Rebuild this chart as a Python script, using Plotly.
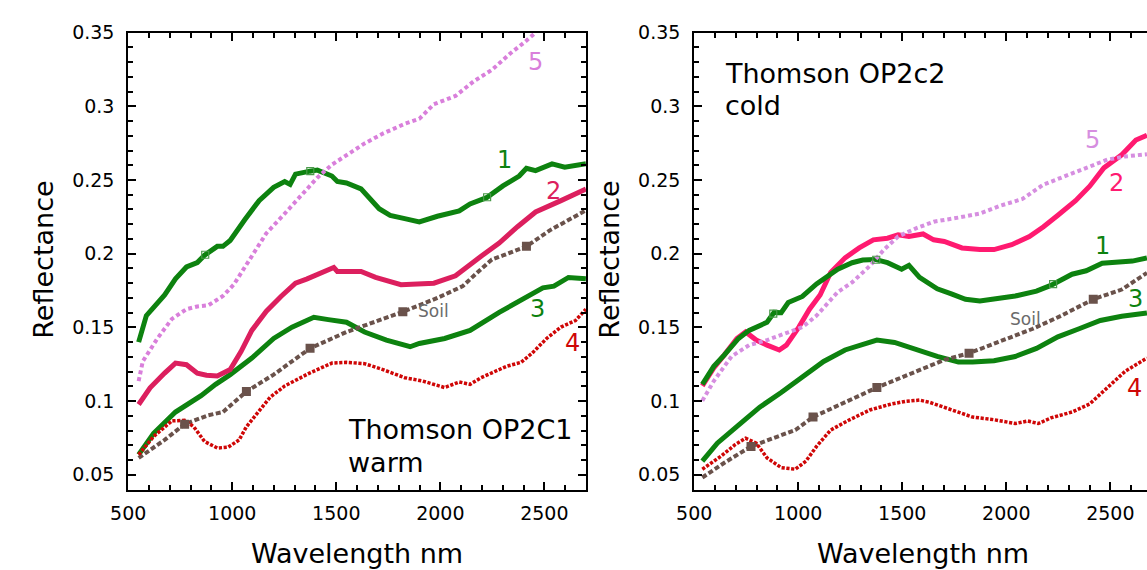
import plotly.graph_objects as go
import numpy as np

# ---------------- Left panel: Thomson OP2C1 warm ----------------
L1_x = [550, 587, 675, 727, 780, 832, 867, 928, 955, 990, 1060, 1129, 1199, 1252, 1278, 1304, 1374, 1409, 1479, 1505, 1549, 1619, 1706, 1759, 1829, 1899, 1986, 2091, 2143, 2222, 2301, 2379, 2414, 2458, 2537, 2598, 2700]
L1_y = [0.140, 0.158, 0.172, 0.183, 0.191, 0.194, 0.199, 0.205, 0.205, 0.209, 0.223, 0.236, 0.245, 0.249, 0.247, 0.254, 0.256, 0.2567, 0.2527, 0.249, 0.248, 0.244, 0.2305, 0.226, 0.2238, 0.2216, 0.2254, 0.229, 0.2338, 0.238, 0.246, 0.2527, 0.258, 0.2564, 0.2609, 0.2587, 0.261]

L2_x = [550, 605, 675, 727, 780, 832, 876, 928, 990, 1042, 1094, 1164, 1234, 1304, 1357, 1427, 1488, 1505, 1619, 1689, 1811, 1969, 2073, 2196, 2283, 2371, 2458, 2580, 2700]
L2_y = [0.0977, 0.109, 0.119, 0.1258, 0.1247, 0.119, 0.1176, 0.117, 0.1214, 0.1336, 0.148, 0.161, 0.171, 0.180, 0.1828, 0.1873, 0.1906, 0.188, 0.188, 0.184, 0.179, 0.180, 0.185, 0.1983, 0.2072, 0.2183, 0.2283, 0.236, 0.2438]

L3_x = [550, 622, 727, 850, 920, 990, 1094, 1199, 1287, 1392, 1462, 1549, 1636, 1741, 1855, 1899, 2021, 2143, 2283, 2423, 2493, 2546, 2616, 2700]
L3_y = [0.0637, 0.0782, 0.0926, 0.1037, 0.1114, 0.118, 0.1292, 0.1425, 0.1502, 0.1569, 0.1553, 0.1535, 0.1469, 0.1414, 0.1369, 0.1391, 0.1425, 0.148, 0.1602, 0.1713, 0.1768, 0.178, 0.1839, 0.183]

L4_x = [550, 622, 710, 771, 815, 867, 928, 981, 1033, 1068, 1112, 1182, 1252, 1374, 1479, 1549, 1636, 1724, 1829, 1916, 2021, 2091, 2143, 2196, 2248, 2318, 2388, 2441, 2511, 2580, 2650, 2700]
L4_y = [0.0637, 0.076, 0.0866, 0.087, 0.0826, 0.0726, 0.0682, 0.0688, 0.0737, 0.0826, 0.0904, 0.1026, 0.1103, 0.1192, 0.1258, 0.1263, 0.1254, 0.1214, 0.1159, 0.1136, 0.1092, 0.113, 0.1114, 0.1159, 0.1192, 0.1236, 0.1263, 0.1325, 0.1425, 0.1502, 0.1547, 0.1624]

L5_x = [550, 570, 640, 710, 780, 832, 885, 955, 1007, 1024, 1077, 1164, 1252, 1339, 1409, 1479, 1549, 1636, 1724, 1829, 1899, 1969, 2073, 2161, 2248, 2336, 2406, 2458]
L5_y = [0.1136, 0.127, 0.1425, 0.1558, 0.1624, 0.1642, 0.165, 0.1713, 0.179, 0.1828, 0.194, 0.2139, 0.2272, 0.2405, 0.2516, 0.2604, 0.2671, 0.2748, 0.2815, 0.2881, 0.2915, 0.3014, 0.307, 0.317, 0.3247, 0.3358, 0.3436, 0.35]

LS_x = [550, 675, 771, 885, 955, 1068, 1199, 1374, 1549, 1724, 1820, 1986, 2108, 2178, 2248, 2301, 2414, 2528, 2700]
LS_y = [0.0615, 0.0737, 0.0844, 0.0904, 0.0926, 0.1065, 0.118, 0.1358, 0.1469, 0.1558, 0.1606, 0.170, 0.178, 0.1873, 0.1961, 0.1988, 0.205, 0.216, 0.2294]

L1_marks = [870, 1375, 2225]
LS_marks = [771, 1068, 1374, 1820, 2414]

# ---------------- Right panel: Thomson OP2c2 cold ----------------
R1_x = [539, 594, 645, 713, 764, 850, 884, 918, 952, 1020, 1088, 1190, 1259, 1310, 1370, 1429, 1497, 1532, 1583, 1668, 1736, 1804, 1873, 1958, 2043, 2145, 2214, 2316, 2384, 2461, 2538, 2606, 2676]
R1_y = [0.1114, 0.1236, 0.1314, 0.1425, 0.148, 0.1535, 0.1602, 0.160, 0.1669, 0.171, 0.1795, 0.1895, 0.1939, 0.1957, 0.1961, 0.1939, 0.1895, 0.1921, 0.1839, 0.1762, 0.1728, 0.1691, 0.168, 0.1695, 0.1713, 0.1746, 0.1785, 0.1861, 0.1884, 0.1935, 0.1939, 0.195, 0.1972]

R2_x = [539, 594, 645, 705, 747, 798, 850, 909, 943, 1003, 1054, 1105, 1156, 1225, 1293, 1361, 1429, 1480, 1532, 1600, 1651, 1702, 1787, 1873, 1941, 2026, 2111, 2179, 2248, 2333, 2401, 2469, 2555, 2623, 2676]
R2_y = [0.1103, 0.1225, 0.1314, 0.1425, 0.1469, 0.1414, 0.138, 0.1347, 0.138, 0.1502, 0.1624, 0.172, 0.1873, 0.1972, 0.2039, 0.2094, 0.2105, 0.2128, 0.2117, 0.2134, 0.2094, 0.2083, 0.2039, 0.2028, 0.2028, 0.2061, 0.2117, 0.2183, 0.2261, 0.236, 0.2458, 0.2582, 0.2671, 0.2771, 0.2804]

R3_x = [539, 611, 713, 815, 918, 1020, 1122, 1225, 1327, 1378, 1463, 1566, 1668, 1770, 1838, 1941, 2043, 2145, 2248, 2350, 2452, 2555, 2676]
R3_y = [0.0593, 0.0715, 0.0837, 0.0959, 0.1059, 0.1159, 0.1269, 0.1347, 0.1391, 0.1414, 0.1398, 0.1347, 0.1303, 0.1265, 0.1265, 0.1274, 0.1303, 0.1358, 0.1436, 0.1491, 0.1547, 0.1576, 0.1598]

R4_x = [539, 628, 696, 747, 798, 850, 918, 986, 1037, 1088, 1156, 1242, 1344, 1446, 1514, 1583, 1634, 1736, 1838, 1941, 2043, 2103, 2154, 2214, 2316, 2401, 2486, 2572, 2676]
R4_y = [0.0538, 0.0626, 0.0704, 0.0748, 0.0715, 0.0615, 0.0549, 0.0538, 0.0593, 0.0693, 0.0804, 0.087, 0.094, 0.098, 0.0998, 0.1007, 0.0991, 0.094, 0.0892, 0.0874, 0.0848, 0.0865, 0.0848, 0.0886, 0.0926, 0.0981, 0.1092, 0.1203, 0.1292]

R5_x = [539, 594, 679, 764, 850, 952, 1020, 1088, 1156, 1190, 1259, 1344, 1412, 1480, 1566, 1651, 1770, 1873, 1975, 2077, 2179, 2282, 2384, 2486, 2572, 2676]
R5_y = [0.1003, 0.1136, 0.1303, 0.138, 0.1414, 0.1469, 0.1502, 0.158, 0.1691, 0.174, 0.1806, 0.1917, 0.2028, 0.2117, 0.2172, 0.2217, 0.2245, 0.2272, 0.2327, 0.2371, 0.2469, 0.2527, 0.2582, 0.2638, 0.266, 0.2675]

RS_x = [539, 645, 773, 884, 986, 1071, 1190, 1378, 1532, 1702, 1821, 1958, 2128, 2265, 2418, 2555, 2676]
RS_y = [0.0482, 0.0582, 0.0693, 0.0748, 0.0804, 0.0892, 0.0969, 0.1092, 0.1181, 0.128, 0.1325, 0.1402, 0.1491, 0.158, 0.1691, 0.1757, 0.187]

R1_marks = [880, 1375, 2225]
RS_marks = [773, 1071, 1378, 1821, 2418]

# Curve label text / colors
labels = ["1", "2", "3", "4", "5", "Soil"]
GREEN = "#0d820f"
PINK_L = "#dc1f5e"
PINK_R = "#ff1a70"
RED = "#cf0606"
PURPLE_L = "#d97fdb"
PURPLE_R = "#d68ee0"
BROWN = "#6a524b"
GRAY = "#6b6b6b"

FONT = "DejaVu Sans"

fig = go.Figure()

def add_panel(xa, ya, s1, s2, s3, s4, s5, ss, m1, ms, pink, purple):
    fig.add_trace(go.Scatter(x=s3[0], y=s3[1], mode="lines", line=dict(color=GREEN, width=5), xaxis=xa, yaxis=ya, showlegend=False))
    fig.add_trace(go.Scatter(x=ss[0], y=ss[1], mode="lines", line=dict(color=BROWN, width=4, dash="5px,2.5px"), xaxis=xa, yaxis=ya, showlegend=False))
    fig.add_trace(go.Scatter(x=s4[0], y=s4[1], mode="lines", line=dict(color=RED, width=3.5, dash="3.2px,1.6px"), xaxis=xa, yaxis=ya, showlegend=False))
    fig.add_trace(go.Scatter(x=s2[0], y=s2[1], mode="lines", line=dict(color=pink, width=5), xaxis=xa, yaxis=ya, showlegend=False))
    fig.add_trace(go.Scatter(x=s1[0], y=s1[1], mode="lines", line=dict(color=GREEN, width=5), xaxis=xa, yaxis=ya, showlegend=False))
    fig.add_trace(go.Scatter(x=s5[0], y=s5[1], mode="lines", line=dict(color=purple, width=4, dash="4px,3px"), xaxis=xa, yaxis=ya, showlegend=False))
    # markers on curves
    fig.add_trace(go.Scatter(x=m1, y=np.interp(m1, s1[0], s1[1]), mode="markers",
                             marker=dict(symbol="square-open", size=7, color="#4a9a4a", line=dict(width=1.2)),
                             xaxis=xa, yaxis=ya, showlegend=False))
    fig.add_trace(go.Scatter(x=ms, y=np.interp(ms, ss[0], ss[1]), mode="markers",
                             marker=dict(symbol="square", size=9, color=BROWN),
                             xaxis=xa, yaxis=ya, showlegend=False))

add_panel("x", "y", (L1_x, L1_y), (L2_x, L2_y), (L3_x, L3_y), (L4_x, L4_y), (L5_x, L5_y), (LS_x, LS_y),
          L1_marks, LS_marks, PINK_L, PURPLE_L)
add_panel("x2", "y2", (R1_x, R1_y), (R2_x, R2_y), (R3_x, R3_y), (R4_x, R4_y), (R5_x, R5_y), (RS_x, RS_y),
          R1_marks, RS_marks, PINK_R, PURPLE_R)

W, H = 1147, 570
Y_RANGE = [0.04, 0.35]
axis_common = dict(showline=True, linewidth=2, linecolor="black", ticks="inside", ticklen=8, tickwidth=2,
                   tickcolor="black", showgrid=False, zeroline=False,
                   tickfont=dict(family=FONT, size=19, color="black"))

ydom = [(H - 488) / H, (H - 22) / H]
xl = dict(axis_common, range=[500, 2700], dtick=500, tick0=500, mirror="allticks",
          minor=dict(dtick=100, ticks="inside", ticklen=5, tickwidth=1.5, tickcolor="black"),
          domain=[112 / W, 577 / W], anchor="y", ticklabelstandoff=6)
yl = dict(axis_common, range=Y_RANGE, dtick=0.05, tick0=0.05, mirror="allticks",
          minor=dict(dtick=0.01, ticks="inside", ticklen=5, tickwidth=1.5, tickcolor="black"),
          domain=ydom, anchor="x", ticklabelstandoff=8)
px_per_nm = (577 - 112) / 2200.0
xr_max = 500 + (W - 687) / px_per_nm
xr = dict(axis_common, range=[500, xr_max], dtick=500, tick0=500, mirror="allticks",
          minor=dict(dtick=100, ticks="inside", ticklen=5, tickwidth=1.5, tickcolor="black"),
          domain=[687 / W, 1.0], anchor="y2", ticklabelstandoff=6)
yr = dict(axis_common, range=Y_RANGE, dtick=0.05, tick0=0.05, mirror=False,
          minor=dict(dtick=0.01, ticks="inside", ticklen=5, tickwidth=1.5, tickcolor="black"),
          domain=ydom, anchor="x2", ticklabelstandoff=8)
# the right frame of the right panel lies just outside the picture: only its tick ends show
yr_edge = dict(range=Y_RANGE, dtick=0.05, tick0=0.05, overlaying="y2", side="right", anchor="free",
               position=1.0, showline=False, showgrid=False, zeroline=False, showticklabels=False,
               ticks="inside", ticklen=3, tickwidth=2, tickcolor="black")

annotations = []
def txt(x, y, t, color, size, xref, yref, xanchor="center", angle=0):
    annotations.append(dict(x=x, y=y, text=t, xref=xref, yref=yref, showarrow=False,
                            font=dict(family=FONT, size=size, color=color),
                            xanchor=xanchor, yanchor="middle", textangle=angle))

# axis titles
txt(26 / W, (H - 254) / H, "Reflectance", "black", 27, "paper", "paper", angle=-90)
txt(601 / W, (H - 254) / H, "Reflectance", "black", 27, "paper", "paper", angle=-90)
txt(344.5 / W, (H - 553) / H, "Wavelength nm", "black", 27, "paper", "paper")
txt(919.5 / W, (H - 553) / H, "Wavelength nm", "black", 27, "paper", "paper")

# panel titles
txt(1546, 0.0807, "Thomson OP2C1", "black", 27, "x", "y", xanchor="left")
txt(1546, 0.0587, "warm", "black", 27, "x", "y", xanchor="left")
txt(637, 0.322, "Thomson OP2c2", "black", 27, "x2", "y2", xanchor="left")
txt(637, 0.3007, "cold", "black", 27, "x2", "y2", xanchor="left")

# curve labels, left
txt(2458, 0.330, labels[4], PURPLE_L, 24, "x", "y")
txt(2309, 0.2637, labels[0], GREEN, 24, "x", "y")
txt(2545, 0.2427, labels[1], PINK_L, 24, "x", "y")
txt(1969, 0.1613, labels[5], GRAY, 17, "x", "y")
txt(2467, 0.1624, labels[2], GREEN, 24, "x", "y")
txt(2633, 0.1391, labels[3], RED, 24, "x", "y")
# curve labels, right
txt(2415, 0.277, labels[4], PURPLE_R, 24, "x2", "y2")
txt(2529, 0.2482, labels[1], PINK_R, 24, "x2", "y2")
txt(2461, 0.205, labels[0], GREEN, 24, "x2", "y2")
txt(2623, 0.169, labels[2], GREEN, 24, "x2", "y2")
txt(2091, 0.1558, labels[5], GRAY, 17, "x2", "y2")
txt(2614, 0.1092, labels[3], RED, 24, "x2", "y2")

fig.update_layout(width=W, height=H, margin=dict(l=0, r=0, t=0, b=0),
                  paper_bgcolor="white", plot_bgcolor="white",
                  xaxis=xl, yaxis=yl, xaxis2=xr, yaxis2=yr, yaxis3=yr_edge,
                  annotations=annotations, showlegend=False)

fig.write_html("out.html", config={"displayModeBar": False},
               post_script="document.body.style.margin='0';document.body.style.overflow='hidden';")
